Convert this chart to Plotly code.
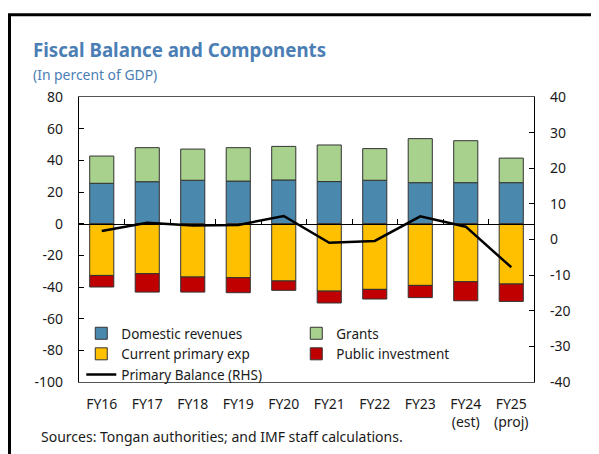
import plotly.graph_objects as go

categories = ["FY16", "FY17", "FY18", "FY19", "FY20", "FY21", "FY22", "FY23", "FY24", "FY25"]
tick_labels = ["FY16", "FY17", "FY18", "FY19", "FY20", "FY21", "FY22", "FY23", "FY24<br>(est)", "FY25<br>(proj)"]

domestic_revenues = [25.5, 26.5, 27.4, 26.9, 27.6, 26.6, 27.4, 25.9, 25.9, 25.9]
grants = [17.2, 21.5, 19.7, 21.1, 21.2, 23.1, 20.0, 27.8, 26.5, 15.5]
current_primary_exp = [-32.7, -31.6, -33.7, -34.1, -36.2, -42.6, -41.5, -39.0, -36.7, -38.1]
public_investment = [-7.3, -11.6, -9.5, -9.5, -5.9, -7.5, -6.1, -7.7, -12.0, -11.0]
primary_balance = [2.4, 4.7, 3.9, 4.1, 6.6, -0.9, -0.4, 6.5, 3.6, -7.8]

left_ticks = [80, 60, 40, 20, 0, -20, -40, -60, -80, -100]
left_tick_text = ["80", "60", "40", "20", "0", "-20", "-40", "-60", "-80", "-100"]
right_ticks = [40, 30, 20, 10, 0, -10, -20, -30, -40]
right_tick_text = ["40", "30", "20", "10", "0", "-10", "-20", "-30", "-40"]
boundary_ticks = [0.5, 1.5, 2.5, 3.5, 4.5, 5.5, 6.5, 7.5, 8.5]

FONT = "Noto Sans"
outline = dict(color="#333333", width=1)

fig = go.Figure()
fig.add_trace(go.Bar(x=categories, y=domestic_revenues, name="Domestic revenues",
                     marker=dict(color="#4A89AD", line=outline)))
fig.add_trace(go.Bar(x=categories, y=grants, name="Grants",
                     marker=dict(color="#A9D18E", line=outline)))
fig.add_trace(go.Bar(x=categories, y=current_primary_exp, name="Current primary exp",
                     marker=dict(color="#FFC000", line=outline)))
fig.add_trace(go.Bar(x=categories, y=public_investment, name="Public investment",
                     marker=dict(color="#C00000", line=outline)))
fig.add_trace(go.Scatter(x=categories, y=primary_balance, name="Primary Balance (RHS)",
                         mode="lines", line=dict(color="black", width=2.5), yaxis="y2"))
# empty trace to carry the zero-line axis with boundary ticks
fig.add_trace(go.Scatter(x=[], y=[], xaxis="x2", yaxis="y", showlegend=False, hoverinfo="skip"))

tickfont = dict(family=FONT, size=14, color="#1a1a1a")

# page body adds an 8px offset; figure is sized so that the page matches 599x454
fig.update_layout(
    width=591, height=446,
    margin=dict(l=71, r=65, t=89, b=72),
    paper_bgcolor="white", plot_bgcolor="white",
    barmode="relative", bargap=0.47,
    font=dict(family=FONT, size=14, color="#1a1a1a"),
    xaxis=dict(type="category", tickvals=categories, ticktext=tick_labels,
               showline=True, linecolor="#555555", linewidth=1.2, mirror=True,
               ticks="", tickfont=tickfont, showgrid=False, ticklabelstandoff=9),
    xaxis2=dict(overlaying="x", anchor="free", position=100/180, range=[-0.5, 9.5],
                tickvals=boundary_ticks, ticks="inside", ticklen=5, tickcolor="black",
                showticklabels=False, showline=True, linecolor="black", linewidth=1.3,
                showgrid=False, zeroline=False),
    yaxis=dict(range=[-100, 80], tickvals=left_ticks, ticktext=left_tick_text,
               showgrid=False, zeroline=False,
               showline=True, linecolor="black", linewidth=1.2,
               ticks="inside", ticklen=5, tickcolor="black", tickfont=tickfont,
               ticklabelstandoff=12),
    yaxis2=dict(range=[-40, 40], tickvals=right_ticks, ticktext=right_tick_text,
                overlaying="y", side="right",
                showgrid=False, zeroline=False, showline=True, linecolor="black", linewidth=1.2,
                ticks="inside", ticklen=5, tickcolor="black", tickfont=tickfont,
                ticklabelstandoff=12),
    legend=dict(orientation="h", x=0.005, xanchor="left", y=(382 - 318) / 285, yanchor="top",
                entrywidth=170, traceorder="normal", bgcolor="rgba(0,0,0,0)",
                font=dict(family=FONT, size=13.5, color="#1a1a1a"), itemwidth=30),
    showlegend=True,
)

# outer frame
fig.add_shape(type="rect", xref="paper", yref="paper",
              x0=(9.5 - 79) / 455, x1=(640 - 79) / 455, y0=(382 - 500) / 285, y1=(382 - 14.7) / 285,
              line=dict(color="black", width=3), fillcolor="rgba(0,0,0,0)", layer="above")

fig.add_annotation(text="<b>Fiscal Balance and Components</b>", xref="paper", yref="paper",
                   x=(31 - 79) / 455, y=(382 - 50) / 285, xanchor="left", yanchor="middle",
                   showarrow=False, font=dict(family=FONT, size=18.7, color="#4A7EB5"))
fig.add_annotation(text="(In percent of GDP)", xref="paper", yref="paper",
                   x=(31 - 79) / 455, y=(382 - 74) / 285, xanchor="left", yanchor="middle",
                   showarrow=False, font=dict(family=FONT, size=13.9, color="#4A7EB5"))
fig.add_annotation(text="Sources: Tongan authorities; and IMF staff calculations.", xref="paper", yref="paper",
                   x=(39 - 79) / 455, y=(382 - 436) / 285, xanchor="left", yanchor="middle",
                   showarrow=False, font=dict(family=FONT, size=14, color="#1a1a1a"))

fig.write_html("out.html")
